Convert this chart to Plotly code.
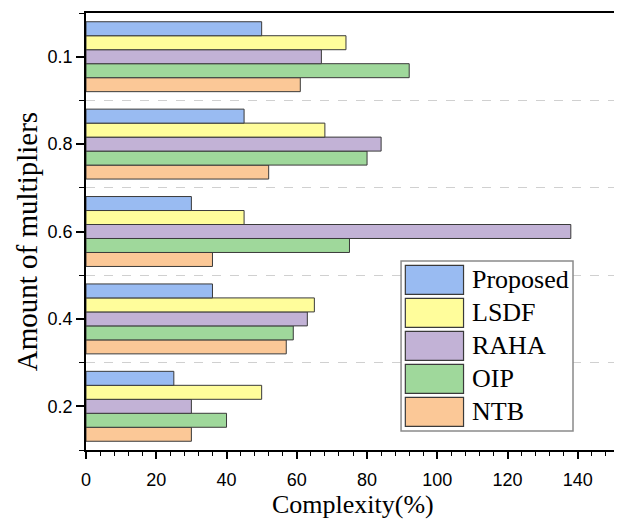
import plotly.graph_objects as go

categories = ["0.2", "0.4", "0.6", "0.8", "0.1"]
series_names = ["Proposed", "LSDF", "RAHA", "OIP", "NTB"]
proposed = [25, 36, 30, 45, 50]
lsdf = [50, 65, 45, 68, 74]
raha = [30, 63, 138, 84, 67]
oip = [40, 59, 75, 80, 92]
ntb = [30, 57, 36, 52, 61]
colors = {"Proposed": "#99BBF2", "LSDF": "#FFFD9B", "RAHA": "#C2B2D6",
          "OIP": "#9FD89B", "NTB": "#FBC897"}
values = {"Proposed": proposed, "LSDF": lsdf, "RAHA": raha, "OIP": oip, "NTB": ntb}
x_ticks = [0, 20, 40, 60, 80, 100, 120, 140]

ypos = list(range(len(categories)))

fig = go.Figure()
# plotly places first trace lowest in a horizontal group -> add NTB first
for name in reversed(series_names):
    fig.add_trace(go.Bar(
        y=ypos, x=values[name], orientation="h", name=name,
        marker=dict(color=colors[name], line=dict(color="#3a3a3a", width=1)),
        showlegend=False))

# page body has an 8px margin, so the figure is 8px smaller and margins shifted
fig.update_layout(
    width=614, height=513,
    margin=dict(l=78, r=2, t=5, b=71),
    paper_bgcolor="white", plot_bgcolor="white",
    barmode="group", bargap=0.2, bargroupgap=0,
    font=dict(family="Liberation Sans, Arial", color="black", size=18),
)
fig.update_xaxes(
    range=[0, 152], tickvals=x_ticks, ticks="outside", ticklen=7, tickwidth=1.5,
    tickcolor="black", showline=True, linecolor="black", linewidth=1.5, mirror=True,
    showgrid=False, zeroline=False, automargin=False, ticklabelstandoff=6,
    tickfont=dict(family="Liberation Sans, Arial", size=18),
    minor=dict(dtick=4, tick0=0, ticks="outside", ticklen=4, tickwidth=1.2,
               tickcolor="black", showgrid=False),
)
fig.update_yaxes(
    range=[-0.5, len(categories) - 0.5], tickvals=ypos, ticktext=categories,
    ticks="outside", ticklen=8, tickwidth=1.5, tickcolor="black",
    showline=True, linecolor="black", linewidth=1.5, mirror=True,
    showgrid=False, zeroline=False, automargin=False,
    tickfont=dict(family="Liberation Sans, Arial", size=18),
    minor=dict(tick0=0.5, dtick=1, ticks="outside", ticklen=5, tickwidth=1.2,
               tickcolor="black", showgrid=True, gridcolor="#d0d0d0",
               griddash="dash", gridwidth=1),
)

title_font = dict(family="Liberation Serif, Times New Roman", size=26, color="black")
ytitle_font = dict(family="Liberation Serif, Times New Roman", size=29, color="black")
fig.add_annotation(xref="paper", yref="paper", x=0.5, y=-0.1625, yanchor="bottom",
                   xanchor="center", text="Complexity(%)", showarrow=False, font=title_font)
fig.add_annotation(xref="paper", yref="paper", x=-0.110, y=0.476, textangle=-90,
                   xanchor="center", yanchor="middle",
                   text="Amount of multipliers", showarrow=False, font=ytitle_font)

# custom legend with large swatches
box_x0, box_x1, box_y0, box_y1 = 0.590, 0.912, 0.0435, 0.4325
fig.add_shape(type="rect", xref="paper", yref="paper", x0=box_x0, x1=box_x1,
              y0=box_y0, y1=box_y1, line=dict(color="#8a8a8a", width=1.5),
              fillcolor="white", layer="above")
row_h = 33 / 437
sw_h = 29 / 437
top = 1 - (265.3 - 13) / 437
for i, name in enumerate(series_names):
    y1 = top - i * row_h
    y0 = y1 - sw_h
    fig.add_shape(type="rect", xref="paper", yref="paper", x0=0.598, x1=0.707,
                  y0=y0, y1=y1, fillcolor=colors[name],
                  line=dict(color="#3a3a3a", width=1.2), layer="above")
    fig.add_annotation(xref="paper", yref="paper", x=0.719, y=(y0 + y1) / 2,
                       text=name, showarrow=False, xanchor="left", yanchor="middle",
                       font=title_font)

fig.write_html("out.html")
